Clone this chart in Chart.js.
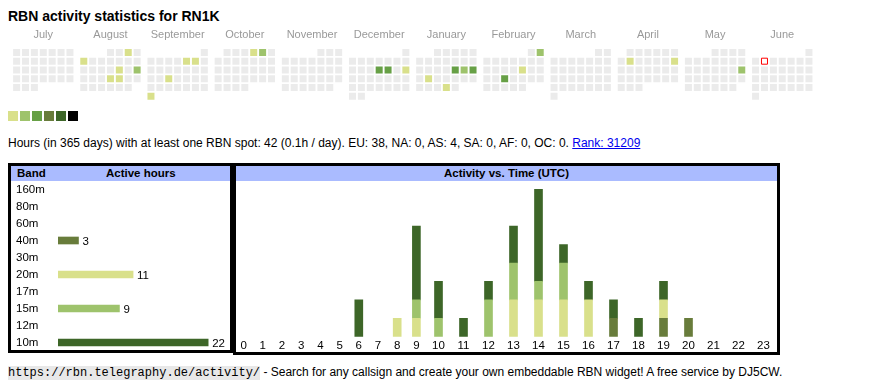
<!DOCTYPE html>
<html>
<head>
<meta charset="utf-8">
<title>RBN activity statistics for RN1K</title>
<script src="https://cdn.jsdelivr.net/npm/chart.js@4.4.1/dist/chart.umd.min.js"></script>
<style>
  body { margin: 0; width: 870px; height: 390px; position: relative; overflow: hidden;
         background: #fff; color: #000; font-family: "Liberation Sans", Arial, sans-serif; }
  .abs { position: absolute; }
  #title { left: 8px; top: 9px; font-size: 14px; line-height: 14px; font-weight: bold; white-space: nowrap; }
  #legend { left: 8px; top: 111px; }
  #legend span { position: absolute; top: 0; width: 10px; height: 10px; }
  #info { left: 8px; top: 137px; font-size: 12px; line-height: 12px; white-space: nowrap; }
  #info a { color: #0000ee; }
  .box { position: absolute; border: 3px solid #000; box-sizing: border-box; }
  .hdr { position: absolute; left: 0; right: 0; top: 0; height: 15px; background: #aabbff;
         font-weight: bold; font-size: 11.5px; line-height: 15px; white-space: nowrap; }
  #bandBox { left: 8px; top: 163px; width: 225px; height: 190px; }
  #timeBox { left: 233px; top: 163px; width: 547px; height: 192px; }
  #footer { left: 8px; top: 366px; font-size: 12px; line-height: 13px; white-space: nowrap; }
  #footer code { font-family: "Liberation Mono", monospace; font-size: 12px; background: #e8e8e8; }
</style>
</head>
<body>
<div id="title" class="abs">RBN activity statistics for RN1K</div>
<canvas id="heatChart" class="abs" width="870" height="86" style="left:0;top:20px"></canvas>
<div id="legend" class="abs"></div>
<div id="info" class="abs">Hours (in 365 days) with at least one RBN spot: 42 (0.1h / day). EU: 38, NA: 0, AS: 4, SA: 0, AF: 0, OC: 0. <a href="#">Rank: 31209</a></div>

<div id="bandBox" class="box">
  <div class="hdr"><span class="abs" style="left:6px">Band</span><span class="abs" style="left:95px">Active hours</span></div>
</div>
<div id="timeBox" class="box">
  <div class="hdr" style="text-align:center">Activity vs. Time (UTC)</div>
</div>
<canvas id="bandChart" class="abs" width="220" height="170" style="left:10px;top:181px"></canvas>
<canvas id="timeChart" class="abs" width="542" height="171" style="left:234px;top:181px"></canvas>

<div id="footer" class="abs"><code>https://rbn.telegraphy.de/activity/</code> - Search for any callsign and create your own embeddable RBN widget! A free service by DJ5CW.</div>

<script>
// calendar: July 2024 .. June 2025
const months = ['July', 'August', 'September', 'October', 'November', 'December',
  'January', 'February', 'March', 'April', 'May', 'June'];
const firstYear = 2024;
const firstMonth = 6; // July (0-based)
const today = '2025-06-03';

const activeDates = [
  '2024-08-03', '2024-08-05', '2024-08-16', '2024-08-18', '2024-08-22', '2024-08-23',
  '2024-09-06', '2024-09-07', '2024-09-18', '2024-09-30',
  '2024-10-04', '2024-10-05',
  '2024-12-12', '2024-12-13', '2024-12-15',
  '2025-01-17', '2025-01-18', '2025-01-19', '2025-01-21', '2025-01-30',
  '2025-02-02', '2025-02-14', '2025-02-19',
  '2025-04-08', '2025-04-13',
  '2025-05-18'
];
const activeLevels = [
  1, 1, 1, 2, 1, 1,
  1, 1, 1, 1,
  1, 2,
  3, 3, 1,
  3, 2, 3, 1, 1,
  2, 1, 3,
  1, 1,
  2
];
const levelColors = ['#ebebeb', '#d9e08b', '#9ec36c', '#67a046', '#687c3b', '#3d6628', '#000000'];

// bands
const bands = ['160m', '80m', '60m', '40m', '30m', '20m', '17m', '15m', '12m', '10m'];
const bandHours = [0, 0, 0, 3, 0, 11, 0, 9, 0, 22];
const bandColors = ['#000000', '#000000', '#000000', '#687c3b', '#000000', '#d9e08b', '#000000', '#9ec36c', '#000000', '#3d6628'];

// activity per UTC hour
const hourLabels = ['0', '1', '2', '3', '4', '5', '6', '7', '8', '9', '10', '11',
  '12', '13', '14', '15', '16', '17', '18', '19', '20', '21', '22', '23'];
const hours40m = [0, 0, 0, 0, 0, 0, 0, 0, 0, 0, 0, 0, 0, 0, 0, 0, 0, 1, 0, 1, 1, 0, 0, 0];
const hours20m = [0, 0, 0, 0, 0, 0, 0, 0, 1, 1, 0, 0, 0, 2, 2, 2, 2, 0, 0, 1, 0, 0, 0, 0];
const hours15m = [0, 0, 0, 0, 0, 0, 0, 0, 0, 1, 1, 0, 2, 2, 1, 2, 0, 0, 0, 0, 0, 0, 0, 0];
const hours10m = [0, 0, 0, 0, 0, 0, 2, 0, 0, 4, 2, 1, 1, 2, 5, 1, 1, 1, 1, 1, 0, 0, 0, 0];

const FONT = '"Liberation Sans", Arial, sans-serif';

// layout of the calendar grid, in cells (one cell = 9px)
const CELL_PX = 9;
const MONTH_STEP = 68 / CELL_PX;

function pad2(n) {
  return String(n).padStart(2, '0');
}

/**
 * One cell per day: x = month block + weekday, y = week row inside the month.
 */
function buildCalendar() {
  const cells = [];
  months.forEach((name, m) => {
    const d0 = new Date(firstYear, firstMonth + m, 1);
    const y = d0.getFullYear();
    const mo = d0.getMonth();
    const firstWd = (d0.getDay() + 6) % 7; // monday first
    const days = new Date(y, mo + 1, 0).getDate();
    for (let d = 1; d <= days; d++) {
      const idx = firstWd + d - 1;
      const key = y + '-' + pad2(mo + 1) + '-' + pad2(d);
      const a = activeDates.indexOf(key);
      cells.push({
        x: m * MONTH_STEP + (idx % 7),
        y: Math.floor(idx / 7),
        level: a >= 0 ? activeLevels[a] : 0,
        today: key === today
      });
    }
  });
  return cells;
}

function renderHeatmap() {
  const cells = buildCalendar();
  const xMin = -11.5 / CELL_PX;
  new Chart(document.getElementById('heatChart'), {
    type: 'scatter',
    data: {
      datasets: [{
        data: cells,
        pointStyle: 'rect',
        pointRadius: c => c.raw && c.raw.today ? 3 / Math.SQRT1_2 : 3.5 / Math.SQRT1_2,
        pointBackgroundColor: c => c.raw && c.raw.today ? '#ffffff' : levelColors[c.raw ? c.raw.level : 0],
        pointBorderColor: '#ff0000',
        pointBorderWidth: c => c.raw && c.raw.today ? 1 : 0
      }]
    },
    options: {
      responsive: false,
      animation: false,
      events: [],
      layout: { padding: { top: 0, bottom: 4, left: 0, right: 0 } },
      plugins: { legend: { display: false }, tooltip: { enabled: false } },
      scales: {
        x: {
          type: 'linear',
          position: 'top',
          min: xMin,
          max: xMin + 870 / CELL_PX,
          grid: { display: false, drawTicks: false },
          border: { display: false },
          afterBuildTicks: s => { s.ticks = months.map((n, m) => ({ value: m * MONTH_STEP + 3 })); },
          afterFit: s => { s.height = 28; },
          ticks: {
            autoSkip: false,
            maxRotation: 0,
            padding: 6,
            color: '#999999',
            font: { family: FONT, size: 11 },
            callback: (v, i) => months[i]
          }
        },
        y: { type: 'linear', min: -0.5, max: 5.5, reverse: true, display: false }
      }
    }
  });
}

// value printed after each band bar
const valueLabels = {
  id: 'valueLabels',
  afterDatasetsDraw(chart) {
    const ctx = chart.ctx;
    ctx.save();
    ctx.font = '11.5px ' + FONT;
    ctx.fillStyle = '#000';
    ctx.textBaseline = 'middle';
    chart.getDatasetMeta(0).data.forEach((bar, i) => {
      if (bandHours[i] > 0) ctx.fillText(bandHours[i], bar.x + 4, bar.y + 1);
    });
    ctx.restore();
  }
};

function renderBands() {
  new Chart(document.getElementById('bandChart'), {
    type: 'bar',
    data: {
      labels: bands,
      // empty bands get no bar at all
      datasets: [{ data: bandHours.map(v => v || null), backgroundColor: bandColors, barThickness: 7, borderWidth: 0 }]
    },
    plugins: [valueLabels],
    options: {
      indexAxis: 'y',
      responsive: false,
      animation: false,
      events: [],
      layout: { padding: { left: 6, right: 0, top: 0, bottom: 0 } },
      plugins: { legend: { display: false }, tooltip: { enabled: false } },
      scales: {
        x: { min: 0, max: 25.2, display: false },
        y: {
          grid: { display: false, drawTicks: false },
          border: { display: false },
          // labels sit inside their rows, no extra room needed above/below
          afterFit: s => { s.width = 42; s.paddingTop = 0; s.paddingBottom = 0; },
          ticks: { crossAlign: 'far', padding: 0, color: '#000', font: { family: FONT, size: 11.5 } }
        }
      }
    }
  });
}

/**
 * Hour columns of the original are table cells, so two-digit hours get wider columns.
 */
function hourCenters() {
  const CHAR_W = 5.8;
  const CELL_PAD = 13.4;
  let x = 0;
  return hourLabels.map(l => {
    const w = CHAR_W * l.length + CELL_PAD;
    const c = x + w / 2;
    x += w;
    return c;
  });
}

function renderTimes() {
  const xs = hourCenters();
  const series = (vals) => vals.map((v, i) => ({ x: xs[i], y: v || null }));
  new Chart(document.getElementById('timeChart'), {
    type: 'bar',
    data: {
      datasets: [
        { label: '40m', data: series(hours40m), backgroundColor: bandColors[3] },
        { label: '20m', data: series(hours20m), backgroundColor: bandColors[5] },
        { label: '15m', data: series(hours15m), backgroundColor: bandColors[7] },
        { label: '10m', data: series(hours10m), backgroundColor: bandColors[9] }
      ]
    },
    options: {
      responsive: false,
      animation: false,
      events: [],
      datasets: { bar: { barThickness: 8, borderWidth: 0 } },
      layout: { padding: 0 },
      plugins: { legend: { display: false }, tooltip: { enabled: false } },
      scales: {
        x: {
          type: 'linear',
          stacked: true,
          offset: false,
          min: 0,
          max: 542,
          grid: { display: false, drawTicks: false },
          border: { display: false },
          afterBuildTicks: s => { s.ticks = xs.map(v => ({ value: v })); },
          afterFit: s => { s.height = 15.3; },
          ticks: {
            autoSkip: false,
            maxRotation: 0,
            padding: 2,
            color: '#000',
            font: { family: FONT, size: 11.5 },
            callback: (v, i) => hourLabels[i]
          }
        },
        y: { stacked: true, min: 0, max: 8.45, display: false }
      }
    }
  });
}

function renderLegend() {
  const box = document.getElementById('legend');
  levelColors.slice(1).forEach((c, i) => {
    const s = document.createElement('span');
    s.style.left = (i * 12) + 'px';
    s.style.background = c;
    box.appendChild(s);
  });
}

renderHeatmap();
renderLegend();
renderBands();
renderTimes();
</script>
</body>
</html>
